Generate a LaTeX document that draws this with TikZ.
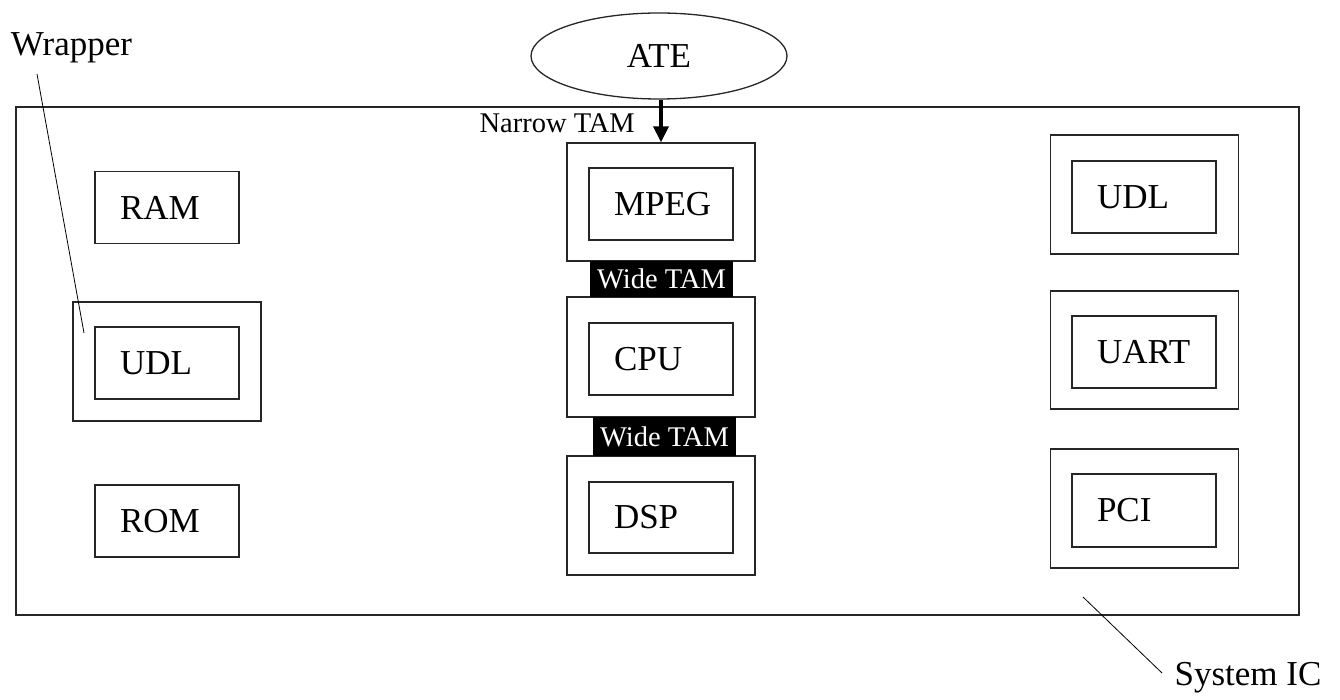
\documentclass[tikz,border=0pt]{standalone}
\usepackage{fontspec}
\setmainfont{Liberation Serif}
\usetikzlibrary{arrows.meta,shapes.geometric}
\tikzset{
  ln/.style={draw=black!85, line width=1.3pt},
  bigtxt/.style={font=\fontsize{35}{40}\selectfont},
  smalltxt/.style={font=\fontsize{28.5}{32}\selectfont},
  core/.style={ln, rectangle, bigtxt, minimum width=144pt, minimum height=72pt,
               text width=94pt, inner xsep=25pt, inner ysep=0pt, align=left},
  wrapbox/.style={ln, rectangle, minimum width=188pt, minimum height=119pt, inner sep=0pt},
  widetam/.style={fill=black, text=white, smalltxt, minimum width=143pt, inner sep=0pt},
}
\begin{document}
\begin{tikzpicture}[x=1pt,y=-1pt]
\useasboundingbox (0,0) rectangle (1340,700);
% system IC
\node[ln, rectangle, minimum width=1283pt, minimum height=508pt, inner sep=0pt] (sys) at (657.5,361) {};
% ATE
\node[ln, ellipse, minimum width=256pt, minimum height=86pt, inner sep=0pt, bigtxt] (ate) at (659,56) {ATE};
% left column
\node[core] (ram) at (167,207.5) {RAM};
\node[wrapbox] (udlLw) at (167,361.5) {};
\node[core] (udlL) at (167,363) {UDL};
\node[core] (rom) at (167,521) {ROM};
% center column
\node[wrapbox, minimum height=118pt] (mpegw) at (661,202) {};
\node[core] (mpeg) at (661,204) {MPEG};
\node[wrapbox, minimum height=120pt] (cpuw) at (661,357) {};
\node[core] (cpu) at (661,359) {CPU};
\node[wrapbox, minimum height=119pt] (dspw) at (661,515.5) {};
\node[core, minimum height=71pt] (dsp) at (661,517.5) {DSP};
\node[widetam, minimum height=36pt] (wt1) at (661.5,279) {Wide TAM};
\node[widetam, minimum height=39pt] (wt2) at (664.5,436.5) {Wide TAM};
% right column
\node[wrapbox] (udlRw) at (1144.5,194.5) {};
\node[core] (udlR) at (1144,197) {UDL};
\node[wrapbox, minimum height=118pt] (uartw) at (1144.5,350) {};
\node[core] (uart) at (1144,352) {UART};
\node[wrapbox] (pciw) at (1144.5,508.5) {};
\node[core, minimum height=73pt] (pci) at (1144,510.5) {PCI};
% narrow TAM
\node[smalltxt, anchor=east, inner sep=0pt] (ntam) at (635,123) {Narrow TAM};
\draw[line width=3.5pt, -{Triangle[length=16pt,width=15pt]}] (ate.south -| mpegw.north) -- (mpegw.north);
% labels
\node[bigtxt, inner sep=0pt] (wraptxt) at (71.5,48) {Wrapper};
\coordinate (wrapA) at (37,74);
\coordinate (wrapB) at (84,333);
\draw[line width=0.8pt] (wrapA) -- (wrapB);
\node[bigtxt, inner sep=0pt] (systxt) at (1248,678) {System IC};
\coordinate (sysA) at (1083,597);
\coordinate (sysB) at (1162,673);
\draw[line width=0.8pt] (sysA) -- (sysB);
\end{tikzpicture}
\end{document}
